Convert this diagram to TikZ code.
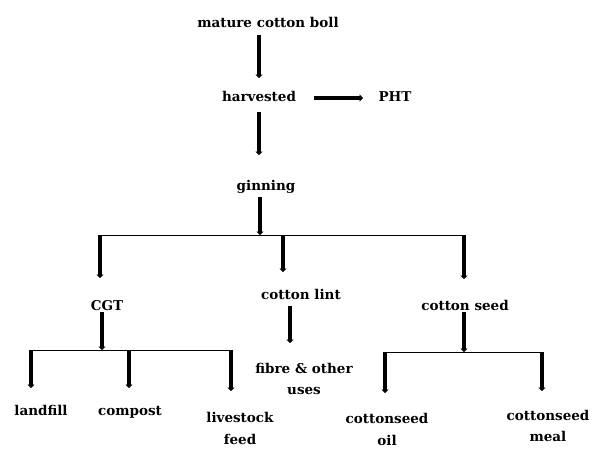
\documentclass[tikz,border=0pt]{standalone}
\usepackage{fontspec}
\setmainfont{DejaVu Serif}
\usetikzlibrary{arrows.meta,calc}
\begin{document}
\begin{tikzpicture}[x=1pt,y=-1pt,
  txt/.style={font=\bfseries\fontsize{13.5}{21.5}\selectfont, inner sep=0pt, align=center},
  lbl/.style={txt, text height=10pt, text depth=3pt},
  lbltwo/.style={txt},
  arr/.style={line width=3.6pt, -{Triangle[width=7pt,length=3.5pt]}},
  bar/.style={line width=0.9pt}]
\useasboundingbox (0,0) rectangle (592,448);
% nodes
\node[lbl] (mcb) at (268,24) {mature cotton boll};
\node[lbl] (harv) at (259,98) {harvested};
\node[lbl] (pht) at (395,98) {PHT};
\node[lbl] (gin) at (266,187) {ginning};
\node[lbl] (cgt) at (107,307) {CGT};
\node[lbl] (lint) at (301,296) {cotton lint};
\node[lbl] (seed) at (465,307) {cotton seed};
\node[lbltwo] (fib) at (304,379) {fibre \& other\\uses};
\node[lbl] (land) at (41,412) {landfill};
\node[lbl] (comp) at (130,412) {compost};
\node[lbltwo] (live) at (240,428.5) {livestock\\feed};
\node[lbltwo] (oil) at (387,429.5) {cottonseed\\oil};
\node[lbltwo] (meal) at (548,426) {cottonseed\\meal};
% junctions
\coordinate (j1) at (260,235);
\coordinate (b1l) at (100,235);
\coordinate (b1m) at (283,235);
\coordinate (b1r) at (465,235);
\coordinate (j2) at (102,350);
\coordinate (b2l) at (31,350);
\coordinate (b2m) at (129,350);
\coordinate (b2r) at (231,350);
\coordinate (j3) at (464,352);
\coordinate (b3l) at (385,352);
\coordinate (b3r) at (542,352);
% bars
\draw[bar] (b1l) -- (b1r);
\draw[bar] (b2l) -- (b2r);
\draw[bar] (b3l) -- (b3r);
% arrows
\draw[arr] ($(mcb.center -| harv.center)+(0,11)$) -- ($(harv.center)+(0,-20)$);
\draw[arr] ($(harv.center)+(55,0)$) -- ($(pht.center)+(-32,0)$);
\draw[arr] ($(harv.center)+(0,14)$) -- ($(gin.center -| harv.center)+(0,-32)$);
\draw[arr] ($(gin.center -| j1)+(0,10)$) -- (j1);
\draw[arr] (b1l) -- ($(cgt.center -| b1l)+(0,-29)$);
\draw[arr] (b1m) -- ($(lint.center -| b1m)+(0,-24)$);
\draw[arr] ([xshift=-1pt]b1r) -- ($(seed.center -| b1r)+(-1,-28)$);
\draw[arr] ($(cgt.center -| j2)+(0,5)$) -- (j2);
\draw[arr] (b2l) -- ($(land.center -| b2l)+(0,-24)$);
\draw[arr] (b2m) -- ($(comp.center -| b2m)+(0,-24)$);
\draw[arr] (b2r) -- ($(live.center -| b2r)+(0,-37.5)$);
\draw[arr] ($(lint.center)+(-11,10)$) -- ($(fib.center -| lint.center)+(-11,-36)$);
\draw[arr] ($(seed.center -| j3)+(0,5)$) -- (j3);
\draw[arr] (b3l) -- ($(oil.center -| b3l)+(0,-36.5)$);
\draw[arr] (b3r) -- ($(meal.center -| b3r)+(0,-35)$);
\end{tikzpicture}
\end{document}
